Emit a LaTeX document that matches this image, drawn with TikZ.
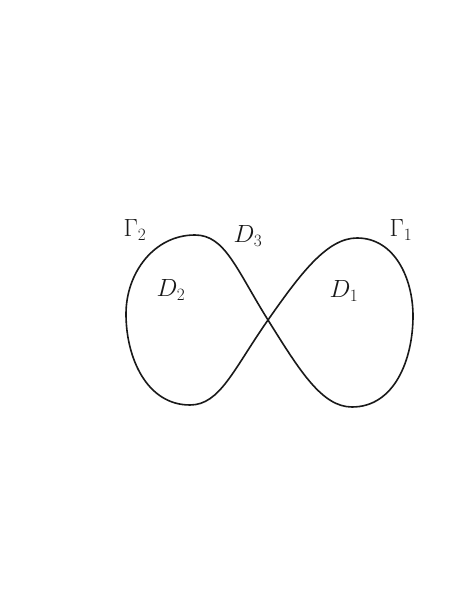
\documentclass[tikz,border=0pt]{standalone}
\usepackage{tikz}
\begin{document}
\begin{tikzpicture}[x=1pt,y=1pt,
  curve/.style={line width=1.6pt,draw={rgb,255:red,25;green,25;blue,25},line join=round},
  lbl/.style={font=\fontsize{23}{26}\selectfont,text={rgb,255:red,25;green,25;blue,25}}]
\fill[white] (0,0) rectangle (462,606);
\useasboundingbox (0,0) rectangle (462,606);
\coordinate (X) at (268,286);
% left lobe
\coordinate (LT) at (195,371);
\coordinate (LL) at (126,292);
\coordinate (LB) at (190,201);
% right lobe
\coordinate (RT) at (357,368);
\coordinate (RR) at (413,290);
\coordinate (RB) at (352,199);
\draw[curve] (X) .. controls (236.2,336.9) and (225,371) .. (LT)
  to[out=180,in=90] (LL) to[out=-90,in=180] (LB)
  .. controls (220,201) and (233.6,236.9) .. (X)
  .. controls (300.4,332.2) and (327,368) .. (RT)
  to[out=0,in=90] (RR) to[out=-90,in=0] (RB)
  .. controls (322,199) and (299.8,235.1) .. (X);
\node[lbl] (G2) at (135,376) {$\Gamma_2$};
\node[lbl] (D3) at (248,370) {$D_3$};
\node[lbl] (G1) at (401,376) {$\Gamma_1$};
\node[lbl] (D2) at (171,316) {$D_2$};
\node[lbl] (D1) at (344,315) {$D_1$};
\end{tikzpicture}
\end{document}
